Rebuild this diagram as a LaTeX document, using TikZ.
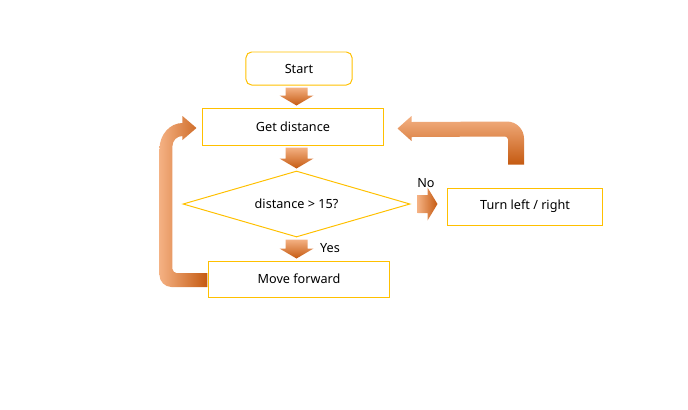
\documentclass[tikz,border=0pt]{standalone}
\usepackage{fontspec}
\setmainfont{Noto Sans}
\usetikzlibrary{shapes.geometric,calc}

\definecolor{boxline}{HTML}{FFC000}
\definecolor{arrlight}{HTML}{F4B183}
\definecolor{arrmid}{HTML}{ED7D31}
\definecolor{arrdark}{HTML}{C55A11}

% straight block arrow downwards, on the axis of the decision
\newcommand\blockdown[2]{%
  \shade[flowdown] ($(#1.south -| dec.center)+(-11,2)$) -- ($(#1.south -| dec.center)+(11,2)$)
    -- ($(#2.north -| dec.center)+(11,-12)$) -- ($(#2.north -| dec.center)+(17,-12)$)
    -- ($(#2.north -| dec.center)+(0,-2)$) -- ($(#2.north -| dec.center)+(-17,-12)$)
    -- ($(#2.north -| dec.center)+(-11,-12)$) -- cycle;}

\begin{document}
\begin{tikzpicture}[x=0.025cm,y=-0.025cm,font=\fontsize{9}{11}\selectfont,
  box/.style={draw=boxline,line width=0.7pt,minimum width=4.5cm,minimum height=0.925cm,inner sep=0pt},
  decision/.style={diamond,aspect=3.44,draw=boxline,line width=0.7pt,minimum width=5.675cm,minimum height=1.65cm,inner sep=0pt},
  flowdown/.style={top color=arrlight,middle color=arrmid,bottom color=arrdark},
  flowright/.style={left color=arrlight,middle color=arrmid,right color=arrdark}]
  \useasboundingbox (0,0) rectangle (688,409);

  % boxes
  \node[box,rounded corners=4pt,minimum width=2.65cm,minimum height=0.825cm] (start) at (299,68.5) {Start};
  \node[box] (dist) at (293,126.5) {Get distance};
  \node[decision] (dec) at (296.5,204) {distance > 15?};
  \node[box,minimum height=0.9cm] (move) at (299,279) {Move forward};
  \node[box,minimum width=3.85cm] (turn) at (525,206.5) {Turn left / right};

  % straight arrows
  \blockdown{start}{dist}
  \blockdown{dist}{dec}
  \blockdown{dec}{move}
  \shade[flowright] ($(dec.east)+(7,-9)$) -- ($(dec.east)+(17,-9)$) -- ($(dec.east)+(17,-16.5)$)
    -- ($(turn.west |- dec.east)+(-10,0)$) -- ($(dec.east)+(17,16.5)$)
    -- ($(dec.east)+(17,9)$) -- ($(dec.east)+(7,9)$) -- cycle;
  \node (yes) at (330,248) {Yes};
  \node (no) at (426,183) {No};

  % loop back from move forward
  \shade[flowright] ($(move.west)+(-1,8)$) -- ($(move.west)+(-37,8)$)
    .. controls ($(move.west)+(-43.6,8)$) and ($(move.west)+(-49,2.6)$) .. ($(move.west)+(-49,-4)$)
    -- ($(dist.west)+(-43,22.5)$)
    .. controls ($(dist.west)+(-43,8.2)$) and ($(dist.west)+(-32.65,-3.5)$) .. ($(dist.west)+(-20,-3.5)$)
    -- ($(dist.west)+(-20,-10.5)$) -- ($(dist.west)+(-6,1.5)$)
    -- ($(dist.west)+(-20,13.5)$) -- ($(dist.west)+(-20,9.5)$)
    .. controls ($(dist.west)+(-25.5,9.5)$) and ($(dist.west)+(-30,14)$) .. ($(dist.west)+(-30,19.5)$)
    -- ($(move.west)+(-36,-10)$)
    .. controls ($(move.west)+(-36,-7.8)$) and ($(move.west)+(-33.8,-6)$) .. ($(move.west)+(-32,-6)$)
    -- ($(move.west)+(-1,-6)$) -- cycle;

  % loop back from turn
  \shade[flowdown] ($(turn.north)+(-1,-23)$) -- ($(turn.north)+(-1,-49)$)
    .. controls ($(turn.north)+(-1,-58.35)$) and ($(turn.north)+(-8.65,-66)$) .. ($(turn.north)+(-18,-66)$)
    -- ($(dist.east)+(28,-4.5)$) -- ($(dist.east)+(28,-10.5)$) -- ($(dist.east)+(14,2)$)
    -- ($(dist.east)+(28,14.5)$) -- ($(dist.east)+(28,10.5)$) -- ($(turn.north)+(-20,-51)$)
    .. controls ($(turn.north)+(-18.35,-51)$) and ($(turn.north)+(-17,-49.35)$) .. ($(turn.north)+(-17,-48)$)
    -- ($(turn.north)+(-17,-23)$) -- cycle;
\end{tikzpicture}
\end{document}
